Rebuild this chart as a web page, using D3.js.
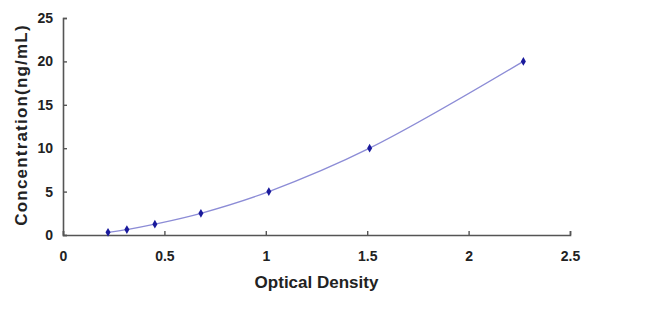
<!DOCTYPE html>
<html>
<head>
<meta charset="utf-8">
<script src="https://cdn.jsdelivr.net/npm/d3@7"></script>
<style>
    body { margin: 0; background: #fff; }
    svg text { font-family: "Liberation Sans", Arial, sans-serif; font-weight: bold; fill: #222; }
</style>
</head>
<body>
<div id="chart"></div>
<script>
// standard curve points
var od = [0.222, 0.315, 0.453, 0.68, 1.015, 1.512, 2.27];
var conc = [0.312, 0.625, 1.25, 2.5, 5, 10, 20];
var xTicks = [0, 0.5, 1, 1.5, 2, 2.5];
var yTicks = [0, 5, 10, 15, 20, 25];
var xLabel = "Optical Density";
var yLabel = "Concentration(ng/mL)";

var width = 650, height = 310;
var margin = {top: 18, right: 80, bottom: 75, left: 63};

var svg = d3.select("#chart").append("svg")
    .attr("width", width)
    .attr("height", height);

var x = d3.scaleLinear().domain([0, 2.5]).range([margin.left, width - margin.right]);
var y = d3.scaleLinear().domain([0, 25]).range([height - margin.bottom, margin.top]);

// axes, ticks pointing inward
var xAxis = svg.append("g")
    .attr("transform", "translate(0," + y(0) + ")")
    .call(d3.axisBottom(x).tickValues(xTicks).tickSize(-4).tickPadding(16)
        .tickFormat(function (d) { return d; }));
var yAxis = svg.append("g")
    .attr("transform", "translate(" + x(0) + ",0)")
    .call(d3.axisLeft(y).tickValues(yTicks).tickSize(-4).tickPadding(10));

[xAxis, yAxis].forEach(function (g) {
    g.select(".domain").attr("stroke", "#555").attr("stroke-width", 1.6);
    g.selectAll(".tick line").attr("stroke", "#555").attr("stroke-width", 1.4);
    g.selectAll(".tick text").style("font-size", "14px").attr("fill", "#222");
});

// fitted curve
var pts = od.map(function (d, i) { return [d, conc[i]]; });
var line = d3.line()
    .x(function (d) { return x(d[0]); })
    .y(function (d) { return y(d[1]); })
    .curve(d3.curveCatmullRom);

svg.append("path")
    .datum(pts)
    .attr("fill", "none")
    .attr("stroke", "#8c8cd6")
    .attr("stroke-width", 1.3)
    .attr("d", line);

// diamond markers
svg.selectAll(".pt")
    .data(pts)
    .enter().append("path")
    .attr("class", "pt")
    .attr("d", d3.symbol().type(d3.symbolDiamond).size(22))
    .attr("transform", function (d) { return "translate(" + x(d[0]) + "," + y(d[1]) + ")"; })
    .attr("fill", "#1a1a9c");

// axis titles
svg.append("text")
    .attr("x", (x(0) + x(2.5)) / 2)
    .attr("y", 288)
    .attr("text-anchor", "middle")
    .style("font-size", "17px")
    .text(xLabel);

svg.append("text")
    .attr("transform", "translate(27,125) rotate(-90)")
    .attr("text-anchor", "middle")
    .style("font-size", "17px")
    .style("letter-spacing", "1.2px")
    .text(yLabel);
</script>
</body>
</html>
